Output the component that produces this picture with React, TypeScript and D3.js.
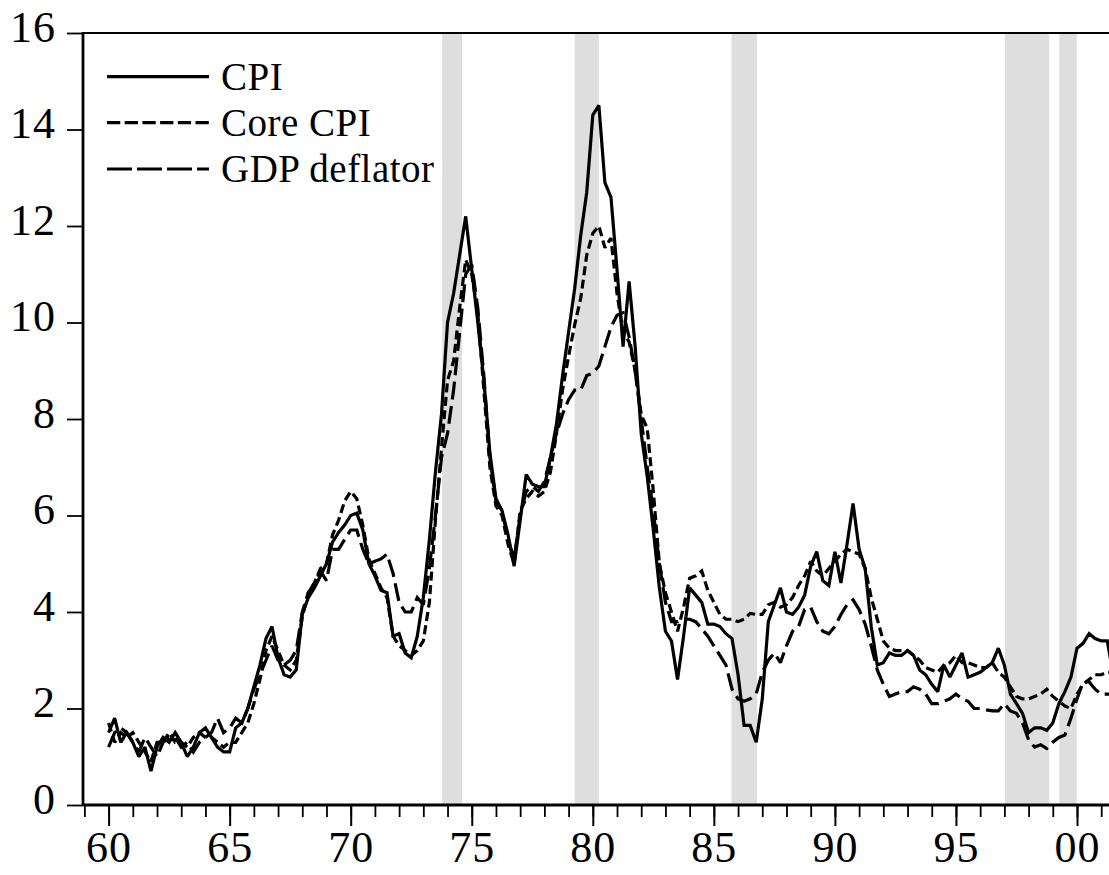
import React, { useEffect, useRef } from "react";
import * as d3 from "d3";

const W = 1109;
const H = 875;

// quarterly inflation, % change on a year earlier, 1960Q1 onwards
const startYear = 1960;

const cpi = [
  1.5, 1.8, 1.3, 1.5, // 1960
  1.3, 1.0, 1.2, 0.7,
  1.2, 1.4, 1.3, 1.5,
  1.3, 1.0, 1.2, 1.5,
  1.6, 1.4, 1.2, 1.1,
  1.1, 1.6, 1.7, 2.0, // 1965
  2.45, 2.9, 3.45, 3.7,
  3.05, 2.7, 2.65, 2.8,
  3.95, 4.3, 4.5, 4.75,
  5.0, 5.45, 5.65, 5.8,
  6.0, 6.05, 5.7, 5.0, // 1970
  4.75, 4.45, 4.4, 3.5,
  3.55, 3.15, 3.05, 3.5,
  4.3, 5.5, 6.9, 8.1,
  10.0, 10.6, 11.4, 12.2,
  11.1, 10.0, 8.8, 7.3, // 1975
  6.35, 6.1, 5.6, 4.95,
  5.9, 6.85, 6.65, 6.6,
  6.6, 7.2, 7.9, 8.9,
  9.8, 10.7, 11.8, 12.7,
  14.3, 14.5, 12.9, 12.6, // 1980
  11.1, 9.5, 10.85, 9.5,
  7.7, 6.8, 5.7, 4.5,
  3.6, 3.4, 2.6, 3.5,
  4.5, 4.35, 4.2, 3.75,
  3.75, 3.7, 3.55, 3.45, // 1985
  2.7, 1.65, 1.65, 1.3,
  2.2, 3.8, 4.15, 4.5,
  4.0, 3.95, 4.1, 4.35,
  4.95, 5.25, 4.65, 4.55,
  5.25, 4.6, 5.4, 6.25, // 1990
  5.3, 4.9, 3.7, 2.9,
  2.95, 3.15, 3.1, 3.1,
  3.2, 3.1, 2.8, 2.7,
  2.5, 2.35, 2.9, 2.65,
  2.9, 3.15, 2.65, 2.7, // 1995
  2.75, 2.85, 2.95, 3.25,
  2.9, 2.3, 2.1, 1.9,
  1.5, 1.6, 1.6, 1.55,
  1.7, 2.1, 2.35, 2.65,
  3.25, 3.35, 3.55, 3.45, // 2000
  3.4, 3.4, 2.7,
];

const coreCpi = [
  1.7, 1.3, 1.5, 1.4, // 1960
  1.5, 1.3, 1.1, 0.9,
  1.3, 1.3, 1.5, 1.3,
  1.3, 1.2, 1.4, 1.5,
  1.4, 1.4, 1.3, 1.2,
  1.3, 1.3, 1.5, 1.7, // 1965
  2.1, 2.6, 3.2, 3.5,
  3.2, 2.9, 2.8, 3.0,
  3.9, 4.4, 4.6, 4.9,
  5.0, 5.6, 5.9, 6.3,
  6.5, 6.35, 5.8, 5.1, // 1970
  4.8, 4.5, 4.3, 3.5,
  3.3, 3.2, 3.1, 3.2,
  3.4, 4.2, 5.9, 7.4,
  8.8, 9.2, 10.3, 11.3,
  11.0, 10.2, 8.6, 7.0, // 1975
  6.2, 6.0, 5.4, 5.0,
  6.1, 6.35, 6.5, 6.4,
  6.5, 6.9, 7.7, 8.6,
  9.3, 9.95, 10.5, 11.4,
  11.85, 12.0, 11.55, 11.75, // 1980
  10.6, 9.8, 9.6, 9.0,
  8.1, 7.8, 6.5, 5.0,
  4.4, 4.0, 3.6, 4.1,
  4.7, 4.75, 4.85, 4.45,
  4.2, 3.95, 3.85, 3.85, // 1985
  3.8, 3.85, 3.97, 3.95,
  3.95, 4.15, 4.2, 4.1,
  4.15, 4.3, 4.55, 4.75,
  5.05, 4.85, 4.75, 4.9,
  5.05, 5.2, 5.3, 5.25, // 1990
  5.2, 4.9, 4.3, 3.85,
  3.4, 3.25, 3.2, 3.2,
  3.2, 3.1, 3.0, 2.85,
  2.8, 2.75, 2.9, 2.95,
  3.1, 2.95, 2.95, 2.9, // 1995
  2.85, 2.85, 2.95, 2.75,
  2.65, 2.45, 2.25, 2.2,
  2.2, 2.25, 2.3, 2.4,
  2.25, 2.15, 2.05, 2.0,
  2.3, 2.5, 2.6, 2.7, // 2000
  2.7, 2.75, 2.75,
];

const gdpDeflator = [
  1.2, 1.5, 1.6, 1.5, // 1960
  1.3, 1.1, 1.4, 1.2,
  1.0, 1.3, 1.4, 1.4,
  1.2, 1.3, 1.1, 1.3,
  1.4, 1.5, 1.8, 1.5,
  1.6, 1.8, 1.7, 2.0, // 1965
  2.4, 2.7, 3.0, 3.3,
  3.0, 2.9, 3.0, 3.2,
  4.0, 4.4, 4.6, 4.85,
  4.65, 5.3, 5.3, 5.5,
  5.7, 5.7, 5.3, 5.0, // 1970
  5.05, 5.1, 5.2, 4.8,
  4.2, 4.0, 4.0, 4.3,
  4.15, 4.9, 6.0, 7.2,
  7.7, 8.6, 9.8, 11.0,
  11.2, 10.3, 8.9, 7.2, // 1975
  6.3, 6.1, 5.5, 5.1,
  6.0, 6.5, 6.6, 6.5,
  6.7, 7.2, 7.7, 8.1,
  8.4, 8.6, 8.6, 8.9,
  8.95, 9.1, 9.5, 9.9, // 1980
  10.15, 10.2, 9.7, 9.0,
  8.0, 7.0, 6.1, 5.0,
  4.2, 3.8, 3.8, 3.85,
  3.85, 3.8, 3.65, 3.5,
  3.3, 3.1, 2.9, 2.4, // 1985
  2.2, 2.15, 2.2, 2.3,
  2.75, 3.0, 3.15, 2.95,
  3.3, 3.6, 3.7, 4.05,
  4.1, 3.8, 3.6, 3.55,
  3.7, 3.95, 4.15, 4.25, // 1990
  4.05, 3.75, 3.3, 2.8,
  2.5, 2.25, 2.3, 2.35,
  2.35, 2.45, 2.4, 2.3,
  2.1, 2.1, 2.15, 2.2,
  2.3, 2.2, 2.15, 2.0, // 1995
  2.0, 1.97, 1.95, 1.95,
  2.1, 1.95, 1.9, 1.7,
  1.35, 1.2, 1.25, 1.17,
  1.3, 1.4, 1.45, 1.8,
  2.2, 2.55, 2.55, 2.4, // 2000
  2.3, 2.3, 2.3,
];

// shaded periods, in years
const shadedPeriods: [number, number][] = [
  [1973.78, 1974.6],
  [1979.25, 1980.25],
  [1985.73, 1986.78],
  [1997.02, 1998.85],
  [1999.27, 1999.99],
];

const yTicks = [0, 2, 4, 6, 8, 10, 12, 14, 16];
const xMajorTicks = [1960, 1965, 1970, 1975, 1980, 1985, 1990, 1995, 2000];
const xTickLabels = ["60", "65", "70", "75", "80", "85", "90", "95", "00"];
const xMinorTicks = d3.range(1959, 2002);

const seriesNames = ["CPI", "Core CPI", "GDP deflator"];

const FONT = "'Liberation Serif', 'Times New Roman', serif";

export default function App() {
  const ref = useRef<SVGSVGElement>(null);

  useEffect(() => {
    const svg = d3.select(ref.current);
    svg.selectAll("*").remove();

    const left = 83;
    const right = W;

    const x = d3.scaleLinear().domain([1960, 2000]).range([108.6, 1077]);
    const y = d3.scaleLinear().domain([0, 16]).range([805, 33]);

    svg.append("clipPath").attr("id", "plot-clip")
      .append("rect")
      .attr("x", left).attr("y", 0)
      .attr("width", right - left).attr("height", y(0));

    // shaded periods
    svg.append("g").selectAll("rect")
      .data(shadedPeriods)
      .join("rect")
      .attr("x", d => x(d[0]))
      .attr("width", d => x(d[1]) - x(d[0]))
      .attr("y", y(16))
      .attr("height", y(0) - y(16))
      .attr("fill", "#dedede");

    // y axis
    const gy = svg.append("g")
      .attr("transform", `translate(${left},0)`)
      .call(d3.axisLeft(y).tickValues(yTicks).tickSize(16).tickSizeOuter(0).tickPadding(11));
    gy.select(".domain").remove();
    gy.selectAll(".tick line").attr("stroke", "#000").attr("stroke-width", 1.8);
    gy.selectAll(".tick text")
      .attr("fill", "#000")
      .attr("dy", 8)
      .attr("font-family", FONT)
      .attr("font-size", 44)
      .attr("letter-spacing", 1);

    // x axis, minor and major ticks
    const gxMinor = svg.append("g")
      .attr("transform", `translate(0,${y(0)})`)
      .call(d3.axisBottom(x).tickValues(xMinorTicks).tickSize(12).tickFormat(() => ""));
    gxMinor.select(".domain").remove();
    gxMinor.selectAll(".tick line").attr("stroke", "#000").attr("stroke-width", 1.8);

    const gx = svg.append("g")
      .attr("transform", `translate(0,${y(0)})`)
      .call(d3.axisBottom(x).tickValues(xMajorTicks).tickSize(21)
        .tickFormat((_, i) => xTickLabels[i]));
    gx.select(".domain").remove();
    gx.selectAll(".tick line").attr("stroke", "#000").attr("stroke-width", 2);
    gx.selectAll(".tick text")
      .attr("fill", "#000")
      .attr("y", 57)
      .attr("dy", 0)
      .attr("font-family", FONT)
      .attr("font-size", 44)
      .attr("letter-spacing", 1);

    // frame
    const frame = svg.append("g").attr("stroke", "#000").attr("fill", "none");
    frame.append("line").attr("x1", left).attr("x2", right).attr("y1", y(16)).attr("y2", y(16))
      .attr("stroke-width", 2.2);
    frame.append("line").attr("x1", left).attr("x2", right).attr("y1", y(0)).attr("y2", y(0))
      .attr("stroke-width", 2.8);
    frame.append("line").attr("x1", left).attr("x2", left).attr("y1", y(16) - 1).attr("y2", y(0) + 1)
      .attr("stroke-width", 2.8);

    // series
    const series = [
      { name: seriesNames[0], values: cpi, dash: null as string | null },
      { name: seriesNames[1], values: coreCpi, dash: "9,4.5" },
      { name: seriesNames[2], values: gdpDeflator, dash: "18,6.5" },
    ];

    const line = d3.line<number>()
      .x((_, i) => x(startYear + i / 4))
      .y(d => y(d));

    svg.append("g")
      .attr("clip-path", "url(#plot-clip)")
      .selectAll("path")
      .data(series)
      .join("path")
      .attr("d", d => line(d.values))
      .attr("fill", "none")
      .attr("stroke", "#000")
      .attr("stroke-width", 3.2)
      .attr("stroke-linejoin", "miter")
      .attr("stroke-miterlimit", 2)
      .attr("stroke-dasharray", d => d.dash);

    // legend
    const legendDash = [null, "13.3,4.4", "25,5"];
    const legendY = [76.7, 122.7, 169];
    const item = svg.append("g").selectAll("g").data(seriesNames).join("g")
      .attr("transform", (_, i) => `translate(0,${legendY[i]})`);
    item.append("line")
      .attr("x1", 107).attr("x2", 209)
      .attr("stroke", "#000").attr("stroke-width", 3.2)
      .attr("stroke-dasharray", (_, i) => legendDash[i]);
    item.append("text")
      .attr("x", 221).attr("y", 13)
      .attr("font-family", FONT).attr("font-size", 39)
      .attr("letter-spacing", 0.5)
      .attr("fill", "#000")
      .text(d => d);
  }, []);

  return (
    <svg
      ref={ref}
      width={W}
      height={H}
      style={{ position: "absolute", left: 0, top: 0, background: "#fff" }}
    />
  );
}
